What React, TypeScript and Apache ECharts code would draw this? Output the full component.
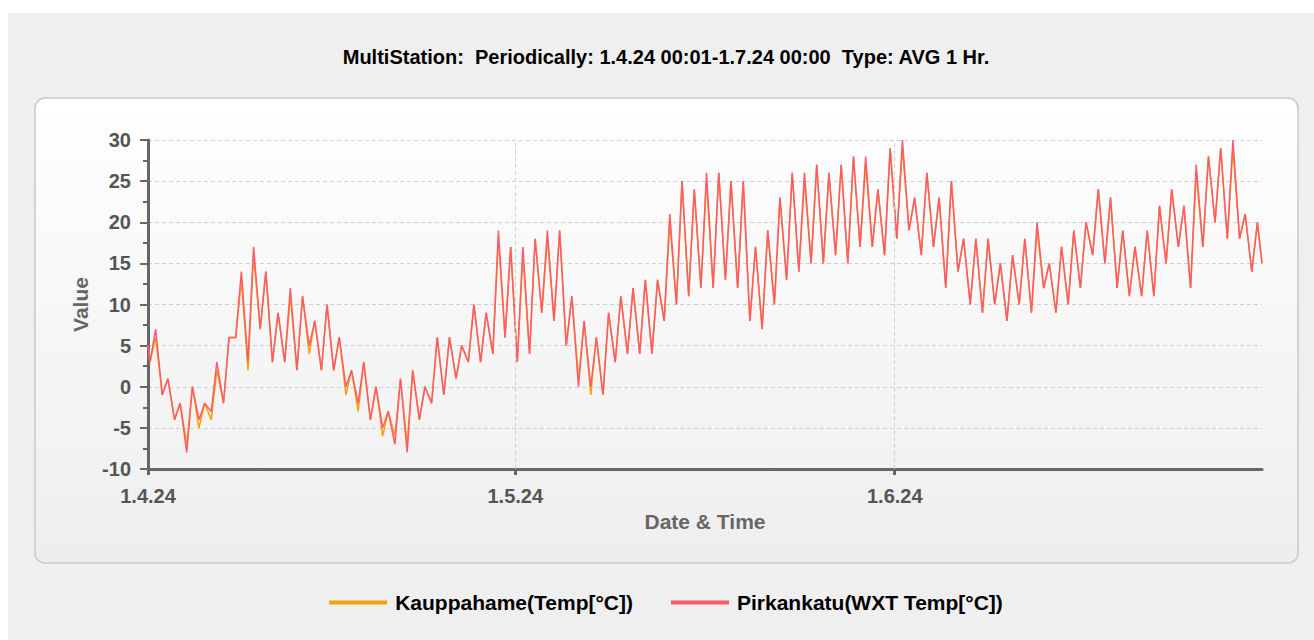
import React, { useEffect, useRef } from 'react';
import * as echarts from 'echarts';

// Axis data
const monthLabels = ['1.4.24', '1.5.24', '1.6.24'];
const monthStartDays = [0, 30, 61];
const totalDays = 91;
const yTicks = { min: -10, max: 30, step: 5 };

// Daily low (night) and high (afternoon) readings, 1.4.24 ... 30.6.24
const pirkankatuLow = [
  3, -1, -4, -8, -4, -3, -2, 6, 3, 7,
  3, 3, 2, 5, 2, 2, 0, -2, -4, -5,
  -7, -8, -4, -2, -1, 1, 3, 3, 4, 6,
  3, 4, 9, 8, 5, 0, 0, -1, 3, 4,
  4, 4, 8, 10, 11, 12, 12, 13, 12, 8,
  7, 10, 13, 14, 15, 15, 16, 15, 17, 17,
  16, 18, 19, 16, 17, 12, 14, 10, 9, 10,
  8, 10, 9, 12, 9, 10, 12, 16, 15, 12,
  11, 11, 11, 15, 17, 12, 17, 20, 18, 18, 14,
];
const pirkankatuHigh = [
  7, 1, -2, 0, -2, 3, 6, 14, 17, 14,
  9, 12, 11, 8, 10, 6, 2, 3, 0, -3,
  1, 2, 0, 6, 6, 5, 10, 9, 19, 17,
  17, 18, 19, 19, 11, 8, 6, 9, 11, 12,
  13, 13, 21, 25, 24, 26, 26, 25, 25, 17,
  19, 23, 26, 26, 27, 26, 27, 28, 28, 24,
  29, 30, 23, 26, 23, 25, 18, 18, 18, 15,
  16, 18, 20, 15, 17, 19, 20, 24, 23, 19,
  17, 19, 22, 24, 22, 27, 28, 29, 30, 21, 20,
];
const kauppahameLow = [
  3, -1, -4, -7, -5, -4, -2, 6, 2, 7,
  3, 3, 2, 4, 2, 2, -1, -3, -4, -6,
  -6, -7, -4, -2, -1, 1, 3, 3, 4, 6,
  3, 4, 9, 8, 5, 1, -1, -1, 3, 4,
  4, 4, 8, 10, 11, 12, 12, 13, 12, 8,
  7, 10, 13, 14, 15, 15, 16, 15, 17, 17,
  16, 18, 19, 16, 17, 12, 14, 10, 9, 10,
  8, 10, 9, 12, 9, 10, 12, 16, 15, 12,
  11, 11, 11, 15, 17, 12, 17, 20, 18, 18, 14,
];
const kauppahameHigh = [
  6, 1, -2, 0, -2, 2, 6, 13, 16, 14,
  9, 11, 11, 8, 10, 6, 2, 3, 0, -3,
  1, 2, 0, 6, 6, 5, 10, 9, 18, 17,
  16, 18, 18, 19, 11, 8, 6, 9, 11, 12,
  13, 13, 20, 25, 24, 25, 26, 25, 25, 17,
  19, 23, 26, 25, 27, 26, 27, 28, 27, 24,
  29, 29, 23, 26, 23, 25, 18, 18, 18, 15,
  16, 18, 19, 15, 17, 19, 20, 24, 23, 19,
  17, 19, 22, 24, 22, 26, 28, 29, 29, 21, 20,
];
const startValues = [5, 5]; // Kauppahame, Pirkankatu at 1.4.24 00:01
const endValues = [15, 15]; // at 1.7.24 00:00

const seriesNames = ['Kauppahame(Temp[°C])', 'Pirkankatu(WXT Temp[°C])'];
const seriesColors = ['#f2a20a', '#ff5a6a'];
const titleText = 'MultiStation:  Periodically: 1.4.24 00:01-1.7.24 00:00  Type: AVG 1 Hr.';

const LOW_HOUR = 4;
const HIGH_HOUR = 15;

function buildSeries(low: number[], high: number[], start: number, end: number) {
  const pts: [number, number][] = [[0, start]];
  for (let d = 0; d < low.length; d++) {
    pts.push([d + LOW_HOUR / 24, low[d]]);
    pts.push([d + HIGH_HOUR / 24, high[d]]);
  }
  pts.push([totalDays, end]);
  return pts;
}

const FONT = '"Liberation Sans", Arial, sans-serif';

export default function App() {
  const ref = useRef<HTMLDivElement>(null);
  useEffect(() => {
    if (!ref.current) return;
    const chart = echarts.init(ref.current, undefined, { renderer: 'svg' });
    const kData = buildSeries(kauppahameLow, kauppahameHigh, startValues[0], endValues[0]);
    const pData = buildSeries(pirkankatuLow, pirkankatuHigh, startValues[1], endValues[1]);
    chart.setOption({
      animation: false,
      backgroundColor: '#efefef',
      textStyle: { fontFamily: FONT },
      title: {
        text: titleText,
        left: 'center',
        top: 29,
        textStyle: { fontFamily: FONT, fontSize: 20, fontWeight: 'bold', color: '#000' },
      },
      graphic: [
        {
          type: 'rect',
          z: -10,
          silent: true,
          shape: { x: 27, y: 85, width: 1263, height: 465, r: 10 },
          style: {
            fill: new echarts.graphic.LinearGradient(0, 0, 0, 1, [
              { offset: 0, color: '#ffffff' },
              { offset: 1, color: '#eeeeee' },
            ]),
            stroke: '#c9c9c9',
            lineWidth: 1.5,
          },
        },
      ],
      legend: {
        data: seriesNames,
        top: 574,
        left: 'center',
        icon: 'rect',
        itemWidth: 58,
        itemHeight: 4,
        itemGap: 38,
        textStyle: { fontFamily: FONT, fontSize: 21, fontWeight: 'bold', color: '#000', padding: [0, 0, 0, 3] },
      },
      grid: { left: 140, right: 62, top: 127, bottom: 171 },
      xAxis: {
        type: 'value',
        min: 0,
        max: totalDays,
        name: 'Date & Time',
        nameLocation: 'middle',
        nameGap: 42,
        nameTextStyle: { fontFamily: FONT, fontSize: 21, fontWeight: 'bold', color: '#666' },
        axisLine: { show: true, onZero: false, lineStyle: { color: '#666', width: 3 } },
        axisTick: { show: true, customValues: monthStartDays, length: 6, lineStyle: { color: '#666', width: 3 } },
        axisLabel: {
          customValues: monthStartDays,
          formatter: (v: number) => monthLabels[monthStartDays.indexOf(v)] ?? '',
          fontFamily: FONT,
          fontSize: 20,
          fontWeight: 'bold',
          color: '#555',
          margin: 17,
        },
        splitLine: { show: false },
      },
      yAxis: {
        type: 'value',
        min: yTicks.min,
        max: yTicks.max,
        interval: yTicks.step,
        name: 'Value',
        nameLocation: 'middle',
        nameGap: 55,
        nameTextStyle: { fontFamily: FONT, fontSize: 21, fontWeight: 'bold', color: '#666' },
        axisLine: { show: true, lineStyle: { color: '#666', width: 3 } },
        axisTick: { show: true, length: 8, lineStyle: { color: '#666', width: 2 } },
        minorTick: { show: true, splitNumber: 2, length: 5, lineStyle: { color: '#666', width: 2 } },
        axisLabel: { fontFamily: FONT, fontSize: 20, fontWeight: 'bold', color: '#555', margin: 17 },
        splitLine: { show: true, lineStyle: { color: '#cfcfcf', type: [4, 3], width: 1 } },
      },
      series: [
        {
          name: '__monthlines',
          type: 'line',
          data: [],
          z: 1,
          silent: true,
          markLine: {
            silent: true,
            symbol: 'none',
            label: { show: false },
            lineStyle: { color: '#cfcfcf', type: [4, 3], width: 1 },
            data: monthStartDays.slice(1).map((d) => ({ xAxis: d })),
          },
        },
        {
          name: seriesNames[0],
          type: 'line',
          data: kData,
          showSymbol: false,
          z: 3,
          color: seriesColors[0],
          lineStyle: { color: seriesColors[0], width: 1.5 },
        },
        {
          name: seriesNames[1],
          type: 'line',
          data: pData,
          showSymbol: false,
          z: 4,
          color: seriesColors[1],
          lineStyle: { color: seriesColors[1], width: 1.5 },
        },
      ],
    });
    return () => chart.dispose();
  }, []);
  return (
    <div style={{ position: 'fixed', left: 8, top: 13, width: 1316, height: 627, overflow: 'hidden' }}>
      <div ref={ref} style={{ width: 1316, height: 627 }} />
    </div>
  );
}
